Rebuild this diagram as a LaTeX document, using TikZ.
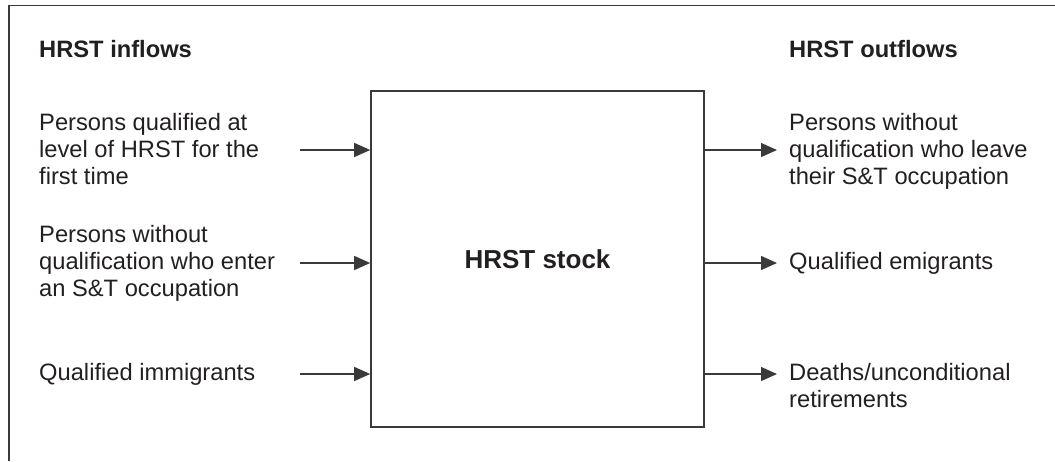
\documentclass[tikz,border=0pt]{standalone}
\usepackage{fontspec}
\setmainfont{Liberation Sans}
\usetikzlibrary{arrows.meta}
\definecolor{ink}{HTML}{231F20}
\definecolor{rule}{HTML}{3A3A3A}
\tikzset{
  lbl/.style={anchor=base west, align=left, inner sep=0pt, text=ink,
    font=\fontsize{23.7}{27}\selectfont},
  hdr/.style={lbl, font=\fontsize{23.7}{27}\selectfont\bfseries},
  flow/.style={draw=rule, line width=1.4pt, -{Triangle[length=16pt,width=14pt]}},
  stockbox/.style={draw=rule, line width=1.6pt, minimum width=333pt, minimum height=336pt,
    inner sep=0pt, text=ink, font=\fontsize{26}{30}\selectfont\bfseries}
}
\begin{document}
\begin{tikzpicture}[x=1pt,y=-1pt]
\useasboundingbox (0,0) rectangle (1055,461);
% frame
\coordinate (fr1) at (1055,5.5);
\coordinate (fr2) at (9,5.5);
\coordinate (fr3) at (9,461);
\draw[rule, line width=1.4pt] (fr1) -- (fr2) -- (fr3);
% central box
\node[stockbox] (box) at (537.5,259) {HRST stock};
% headings
\node[hdr] (hin) at (39,57) {HRST inflows};
\node[hdr] (hout) at (789,57) {HRST outflows};
% inflow texts (anchor = baseline of last line)
\node[lbl] (in1) at (39,184) {Persons qualified at\\level of HRST for the\\first time};
\node[lbl] (in2) at (39,296) {Persons without\\qualification who enter\\an S\&T occupation};
\node[lbl] (in3) at (39,380) {Qualified immigrants};
% outflow texts
\node[lbl] (out1) at (789,184) {Persons without\\qualification who leave\\their S\&T occupation};
\node[lbl] (out2) at (789,269) {Qualified emigrants};
\node[lbl] (out3) at (789,407) {Deaths/unconditional\\retirements};
% arrow coordinates
\coordinate (a1) at (300,150);
\coordinate (a2) at (300,263);
\coordinate (a3) at (300,374);
\coordinate (b1) at (777,150);
\coordinate (b2) at (777,263);
\coordinate (b3) at (777,374);
\draw[flow] (a1) -- (box.west |- a1);
\draw[flow] (a2) -- (box.west |- a2);
\draw[flow] (a3) -- (box.west |- a3);
\draw[flow] (box.east |- b1) -- (b1);
\draw[flow] (box.east |- b2) -- (b2);
\draw[flow] (box.east |- b3) -- (b3);
\end{tikzpicture}
\end{document}
